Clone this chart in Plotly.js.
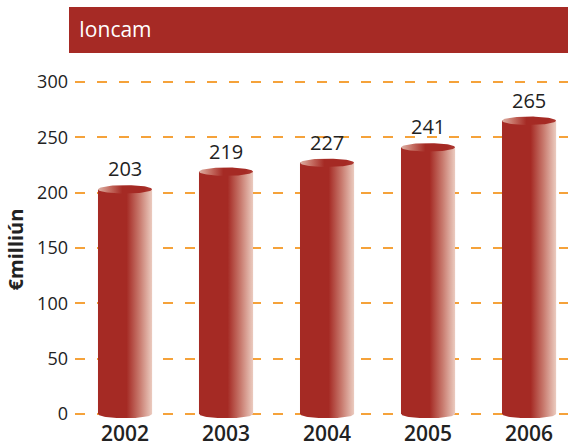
<!DOCTYPE html>
<html>
<head>
<meta charset="utf-8">
<script src="https://cdn.plot.ly/plotly-3.0.1.min.js"></script>
<style>html,body{margin:0;padding:0;background:#fff;}#chart{width:568px;height:447px;}</style>
</head>
<body>
<div id="chart"></div>
<script>
// ---- data ----
const years = ['2002', '2003', '2004', '2005', '2006'];
const values = [203, 219, 227, 241, 265];
const yTicks = [0, 50, 100, 150, 200, 250, 300];
const chartTitle = 'Ioncam';
const yTitle = '€milliún';

// ---- style ----
const DARK = '#A52A24';
const LIGHT = '#EBCBBF';
const FONT = '"Open Sans", "Noto Sans", sans-serif';
const BW = 0.535;   // bar width (category units)
const RY = 3.8;     // ellipse half-height (value units)
const N = 40;

const idx = years.map((_, i) => i);
const traces = [];

traces.push({
  type: 'bar', x: idx, y: values, width: BW,
  marker: {color: DARK, line: {width: 0}},
  hoverinfo: 'x+y', showlegend: false
});

values.forEach((v, i) => {
  const x0 = i - BW / 2, x1 = i + BW / 2;
  // body + bottom half ellipse
  const bx = [x0], by = [v];
  for (let k = 0; k <= N; k++) {
    const t = Math.PI * k / N;
    bx.push(i - Math.cos(t) * BW / 2);
    by.push(-Math.sin(t) * RY);
  }
  bx.push(x1); by.push(v); bx.push(x0); by.push(v);
  traces.push({
    type: 'scatter', mode: 'lines', x: bx, y: by, fill: 'toself',
    line: {width: 0, color: 'rgba(0,0,0,0)'},
    fillgradient: {type: 'horizontal', start: x0, stop: x1,
      colorscale: [[0, DARK], [0.53, DARK], [0.77, '#C87A6E'], [1, LIGHT]]},
    hoverinfo: 'skip', showlegend: false
  });
  // top ellipse
  const tx = [], ty = [];
  for (let k = 0; k <= 2 * N; k++) {
    const t = Math.PI * k / N;
    tx.push(i + Math.cos(t) * BW / 2);
    ty.push(v + Math.sin(t) * RY);
  }
  traces.push({
    type: 'scatter', mode: 'lines', x: tx, y: ty, fill: 'toself',
    line: {width: 0, color: 'rgba(0,0,0,0)'},
    fillgradient: {type: 'horizontal', start: x0, stop: x1,
      colorscale: [[0, '#DDB2A6'], [0.2, '#C77367'], [0.45, DARK], [0.85, DARK], [1, '#AE3A33']]},
    hoverinfo: 'skip', showlegend: false
  });
});

const annotations = values.map((v, i) => ({
  x: i, y: v, text: String(v), showarrow: false, yanchor: 'bottom', yshift: 5,
  font: {family: FONT, size: 20, color: '#222'}
}));

const layout = {
  width: 568, height: 447,
  margin: {l: 75, r: 0, t: 80, b: 28},
  paper_bgcolor: '#fff', plot_bgcolor: '#fff',
  showlegend: false,
  title: {text: chartTitle, x: 79 / 568, xanchor: 'left', xref: 'container',
    y: 1 - 30 / 447, yanchor: 'middle', yref: 'container',
    font: {family: FONT, size: 21, color: '#fff', weight: 500}},
  xaxis: {
    type: 'linear', range: [-0.495, 4.386], tickvals: idx, ticktext: years,
    showgrid: false, zeroline: false, showline: false, ticks: '',
    tickfont: {family: FONT, size: 21, color: '#222', weight: 600},
    ticklabelstandoff: 0, fixedrange: true
  },
  yaxis: {
    range: [-4.518, 301.807], tickvals: yTicks, ticktext: yTicks.map(String),
    showgrid: true, gridcolor: '#F5A23A', gridwidth: 2, griddash: '10px,12px',
    zeroline: false, showline: false, ticks: '',
    tickfont: {family: FONT, size: 18, color: '#222'},
    ticklabelstandoff: 6,
    title: {text: yTitle, standoff: 8, font: {family: FONT, size: 20, color: '#222', weight: 'bold'}},
    fixedrange: true
  },
  shapes: [{
    type: 'rect', xref: 'paper', yref: 'paper', layer: 'below',
    x0: (69 - 75) / 493, x1: 1, y0: (419 - 53) / 339, y1: (419 - 7) / 339,
    fillcolor: '#A62A25', line: {width: 0}
  }],
  annotations: annotations
};

Plotly.newPlot('chart', traces, layout, {displayModeBar: false, staticPlot: true});
</script>
</body>
</html>
